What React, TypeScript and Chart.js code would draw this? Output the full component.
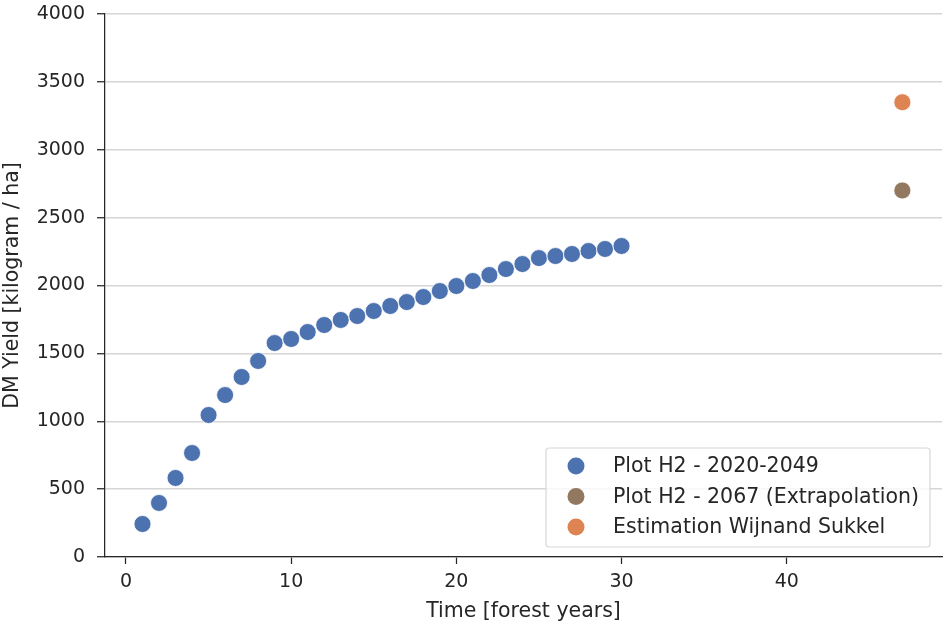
import React, { useEffect, useRef } from "react";
import { Chart, registerables } from "chart.js";

Chart.register(...registerables);

const years = [1, 2, 3, 4, 5, 6, 7, 8, 9, 10, 11, 12, 13, 14, 15, 16, 17, 18, 19, 20, 21, 22, 23, 24, 25, 26, 27, 28, 29, 30];
const yieldH2 = [243, 398, 582, 766, 1046, 1193, 1326, 1444, 1576, 1606, 1657, 1709, 1746, 1775, 1812, 1849, 1878, 1915, 1959, 1996, 2033, 2077, 2121, 2158, 2202, 2217, 2232, 2254, 2269, 2291];
const extrapolationYear = [47];
const extrapolationYield = [2700];
const estimationYear = [47];
const estimationYield = [3350];
const seriesLabels = ["Plot H2 - 2020-2049", "Plot H2 - 2067 (Extrapolation)", "Estimation Wijnand Sukkel"];
const seriesColors = ["#4C72B0", "#937860", "#DD8452"];
const xTickValues = [0, 10, 20, 30, 40];
const yTickValues = [0, 500, 1000, 1500, 2000, 2500, 3000, 3500, 4000];

const FONT = "'DejaVu Sans', sans-serif";
const TEXT = "#262626";
const TICK_SIZE = 19;
const LABEL_SIZE = 20.5;

const insideLegend = {
  id: "insideLegend",
  afterDatasetsDraw(chart: any) {
    const { ctx, chartArea } = chart;
    const boxW = 384;
    const boxH = 99;
    const x0 = chartArea.right - 12 - boxW;
    const y0 = chartArea.bottom - 10 - boxH;
    ctx.save();
    ctx.fillStyle = "rgba(255,255,255,0.8)";
    ctx.strokeStyle = "#d8d8d8";
    ctx.lineWidth = 1.2;
    const r = 3;
    ctx.beginPath();
    ctx.moveTo(x0 + r, y0);
    ctx.lineTo(x0 + boxW - r, y0);
    ctx.quadraticCurveTo(x0 + boxW, y0, x0 + boxW, y0 + r);
    ctx.lineTo(x0 + boxW, y0 + boxH - r);
    ctx.quadraticCurveTo(x0 + boxW, y0 + boxH, x0 + boxW - r, y0 + boxH);
    ctx.lineTo(x0 + r, y0 + boxH);
    ctx.quadraticCurveTo(x0, y0 + boxH, x0, y0 + boxH - r);
    ctx.lineTo(x0, y0 + r);
    ctx.quadraticCurveTo(x0, y0, x0 + r, y0);
    ctx.closePath();
    ctx.fill();
    ctx.stroke();
    ctx.font = `${LABEL_SIZE}px ${FONT}`;
    ctx.textBaseline = "middle";
    chart.data.datasets.forEach((ds: any, i: number) => {
      const cy = y0 + 18 + i * 30.5;
      ctx.beginPath();
      ctx.arc(x0 + 30, cy, 8.5, 0, Math.PI * 2);
      ctx.fillStyle = ds.backgroundColor;
      ctx.fill();
      ctx.fillStyle = TEXT;
      ctx.fillText(ds.label, x0 + 67, cy + 1);
    });
    ctx.restore();
  },
};

export default function App() {
  const ref = useRef<HTMLCanvasElement>(null);
  useEffect(() => {
    const mk = (xs: number[], ys: number[]) => xs.map((x, i) => ({ x, y: ys[i] }));
    const chart = new Chart(ref.current!, {
      type: "scatter",
      data: {
        datasets: [
          { label: seriesLabels[0], data: mk(years, yieldH2), backgroundColor: seriesColors[0] },
          { label: seriesLabels[1], data: mk(extrapolationYear, extrapolationYield), backgroundColor: seriesColors[1] },
          { label: seriesLabels[2], data: mk(estimationYear, estimationYield), backgroundColor: seriesColors[2] },
        ].map((d) => ({ ...d, pointRadius: 8.5, pointHoverRadius: 8.5, borderColor: "#ffffff", borderWidth: 0.8 })),
      },
      options: {
        animation: false,
        responsive: false,
        maintainAspectRatio: false,
        layout: { autoPadding: false, padding: { top: 14, right: 1, left: 0, bottom: 0 } },
        plugins: { legend: { display: false }, tooltip: { enabled: false } },
        scales: {
          x: {
            type: "linear",
            min: -1.27,
            max: 49.4,
            afterBuildTicks: (s: any) => { s.ticks = xTickValues.map((v) => ({ value: v })); },
            afterFit: (s: any) => { s.height = 70; s.paddingLeft = 0; s.paddingRight = 0; },
            ticks: { color: TEXT, font: { family: FONT, size: TICK_SIZE }, padding: 7, maxRotation: 0, callback: (v: any) => String(v) },
            grid: { drawOnChartArea: false, drawTicks: true, tickLength: 7, tickColor: TEXT, tickWidth: 1.25 },
            border: { display: true, color: TEXT, width: 1.25 },
            title: { display: true, text: "Time [forest years]", color: TEXT, font: { family: FONT, size: LABEL_SIZE }, padding: { top: 0, bottom: 3 } },
          },
          y: {
            type: "linear",
            min: 0,
            max: 4000,
            afterBuildTicks: (s: any) => { s.ticks = yTickValues.map((v) => ({ value: v })); },
            afterFit: (s: any) => { s.width = 105; s.paddingTop = 0; s.paddingBottom = 0; },
            ticks: { color: TEXT, font: { family: FONT, size: TICK_SIZE }, padding: 12, callback: (v: any) => String(v) },
            grid: { color: "#d6d6d6", lineWidth: 1.5, drawTicks: true, tickLength: 8, tickColor: TEXT, tickWidth: 1.25 },
            border: { display: true, color: TEXT, width: 1.25 },
            title: { display: true, text: "DM Yield [kilogram / ha]", color: TEXT, font: { family: FONT, size: LABEL_SIZE }, padding: { top: 0, bottom: 0 } },
          },
        },
      },
      plugins: [insideLegend],
    });
    return () => chart.destroy();
  }, []);
  return (
    <div style={{ position: "fixed", left: 0, top: 0, width: 943, height: 627, background: "#fff" }}>
      <canvas ref={ref} width={943} height={627} style={{ width: 943, height: 627 }} />
    </div>
  );
}
